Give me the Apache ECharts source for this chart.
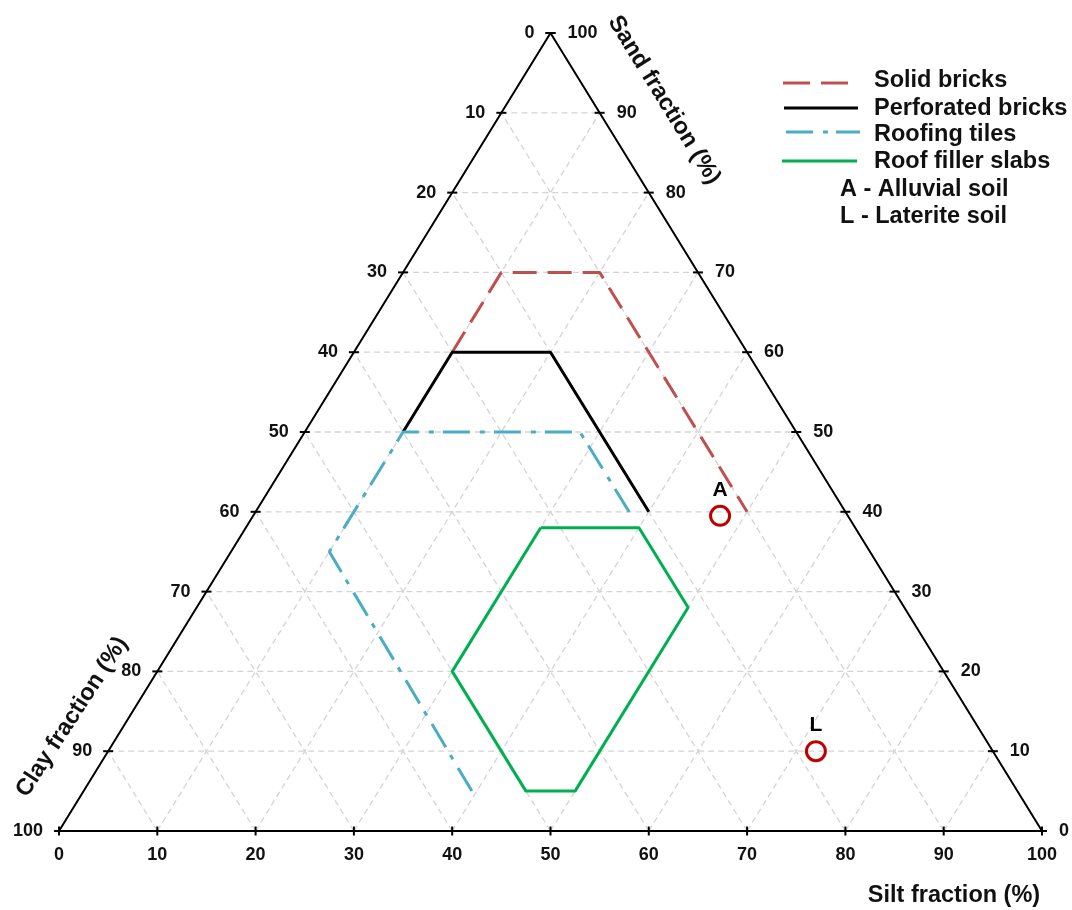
<!DOCTYPE html>
<html>
<head>
<meta charset="utf-8">
<script src="https://cdn.jsdelivr.net/npm/echarts@6/dist/echarts.min.js"></script>
<style>
  html, body { margin: 0; padding: 0; background: #ffffff; }
  #chart { width: 1072px; height: 910px; }
</style>
</head>
<body>
<div id="chart"></div>
<script>
// Compositions are [sand, silt, clay] in percent
const solidBricks = [[60, 10, 30], [70, 10, 20], [70, 20, 10], [40, 50, 10]];
const perforatedBricks = [[50, 10, 40], [60, 10, 30], [60, 20, 20], [40, 40, 20]];
const roofingTiles = [[5, 39.5, 55.5], [35, 10, 55], [50, 10, 40], [50, 28, 22], [39, 39, 22]];
const roofFillerSlabs = [[38, 30, 32], [38, 40, 22], [28, 50, 22], [5, 50, 45], [5, 45, 50], [20, 30, 50], [38, 30, 32]];

const soilNames = ['A', 'L'];
const soilComps = [[39.5, 47.5, 13], [10, 72, 18]];

const tickValues = [0, 10, 20, 30, 40, 50, 60, 70, 80, 90, 100];

const FONT = '"Liberation Sans", Arial, sans-serif';

// Ternary [sand, silt, clay] -> cartesian [x, y] on a 0..100 grid
const toXY = c => [c[1] + c[0] / 2, c[0]];

// Dashed reference lines every 10 % for each component
const gridSegments = [];
tickValues.filter(v => v > 0 && v < 100).forEach(v => {
  [
    [[v, 0, 100 - v], [v, 100 - v, 0]],       // constant sand
    [[0, v, 100 - v], [100 - v, v, 0]],       // constant silt
    [[0, 100 - v, v], [100 - v, 0, v]]        // constant clay
  ].forEach(([a, b]) => gridSegments.push(toXY(a).concat(toXY(b))));
});

// Triangle outline
const frame = [[0, 0, 100], [0, 100, 0], [100, 0, 0], [0, 0, 100]].map(toXY);

// Ticks: [x, y, side, value]; side 0 = clay (left), 1 = sand (right), 2 = silt (bottom)
const ticks = [];
tickValues.forEach(v => {
  ticks.push(toXY([100 - v, 0, v]).concat([0, v]));
  ticks.push(toXY([v, 100 - v, 0]).concat([1, v]));
  ticks.push(toXY([0, v, 100 - v]).concat([2, v]));
});

const tickFont = 'bold 18px ' + FONT;

function renderTick(params, api) {
  const p = api.coord([api.value(0), api.value(1)]);
  const side = api.value(2);
  const label = String(api.value(3));
  let line, text;
  if (side === 0) {
    line = { x1: p[0] - 5, y1: p[1], x2: p[0] + 5, y2: p[1] };
    text = { x: p[0] - 16, y: p[1], align: 'right', verticalAlign: 'middle' };
  } else if (side === 1) {
    line = { x1: p[0] - 5, y1: p[1], x2: p[0] + 5, y2: p[1] };
    text = { x: p[0] + 17, y: p[1], align: 'left', verticalAlign: 'middle' };
  } else {
    line = { x1: p[0], y1: p[1] - 4.5, x2: p[0], y2: p[1] + 4.5 };
    text = { x: p[0], y: p[1] + 24, align: 'center', verticalAlign: 'middle' };
  }
  return {
    type: 'group',
    children: [
      { type: 'line', shape: line, style: { stroke: '#000', lineWidth: 2 } },
      {
        type: 'text', x: text.x, y: text.y,
        style: { text: label, font: tickFont, fill: '#111', align: text.align, verticalAlign: text.verticalAlign }
      }
    ]
  };
}

function renderSegment(params, api) {
  const a = api.coord([api.value(0), api.value(1)]);
  const b = api.coord([api.value(2), api.value(3)]);
  return {
    type: 'line',
    shape: { x1: a[0], y1: a[1], x2: b[0], y2: b[1] },
    style: { stroke: '#d4d4d4', lineWidth: 1.3, lineDash: [6, 4] }
  };
}

const classLine = (name, data, color, dash) => ({
  name, type: 'line', data: data.map(toXY), symbol: 'none', z: 3,
  lineStyle: { color, width: 3, type: dash }
});

const legendRows = [
  { label: 'Solid bricks', color: '#c0504d', dash: [27, 11], y: 83, x1: 783, x2: 848 },
  { label: 'Perforated bricks', color: '#000000', dash: null, y: 108, x1: 784, x2: 858 },
  { label: 'Roofing tiles', color: '#4bacc6', dash: [27, 10, 5, 8], y: 132, x1: 786, x2: 860 },
  { label: 'Roof filler slabs', color: '#00b050', dash: null, y: 161, x1: 782, x2: 857 }
];
const legendTextRows = [
  { label: 'A - Alluvial soil', y: 190 },
  { label: 'L - Laterite soil', y: 217 }
];

const legendFont = 'bold 23.5px ' + FONT;
const graphics = [];
legendRows.forEach((r, i) => {
  graphics.push({
    type: 'line', shape: { x1: r.x1, y1: r.y, x2: r.x2, y2: r.y },
    style: { stroke: r.color, lineWidth: 3, lineDash: r.dash }
  });
  graphics.push({
    type: 'text', x: 874, y: [81, 109, 135, 162][i],
    style: { text: r.label, font: legendFont, fill: '#111', verticalAlign: 'middle' }
  });
});
legendTextRows.forEach(r => graphics.push({
  type: 'text', x: 840, y: r.y,
  style: { text: r.label, font: legendFont, fill: '#111', verticalAlign: 'middle' }
}));
graphics.push(
  {
    type: 'text', x: 664, y: 100, rotation: -58.3 * Math.PI / 180,
    style: { text: 'Sand fraction (%)', font: 'bold 23.5px ' + FONT, fill: '#111', align: 'center', verticalAlign: 'middle' }
  },
  {
    type: 'text', x: 72, y: 717, rotation: 57 * Math.PI / 180,
    style: { text: 'Clay fraction (%)', font: 'bold 23.5px ' + FONT, fill: '#111', align: 'center', verticalAlign: 'middle' }
  },
  {
    type: 'text', x: 954, y: 896,
    style: { text: 'Silt fraction (%)', font: 'bold 23.5px ' + FONT, fill: '#111', align: 'center', verticalAlign: 'middle' }
  }
);

const chart = echarts.init(document.getElementById('chart'), null, { renderer: 'canvas' });
chart.setOption({
  animation: false,
  backgroundColor: '#ffffff',
  grid: { left: 59, right: 30, top: 33, bottom: 79 },
  xAxis: { type: 'value', min: 0, max: 100, show: false },
  yAxis: { type: 'value', min: 0, max: 100, show: false },
  graphic: graphics,
  series: [
    { type: 'custom', name: 'grid', renderItem: renderSegment, data: gridSegments, z: 1, silent: true },
    { type: 'line', name: 'frame', data: frame, symbol: 'none', z: 2, lineStyle: { color: '#000', width: 2 }, silent: true },
    classLine('Solid bricks', solidBricks, '#c0504d', [24, 11]),
    classLine('Perforated bricks', perforatedBricks, '#000000', 'solid'),
    classLine('Roofing tiles', roofingTiles, '#4bacc6', [27, 10, 5, 9]),
    classLine('Roof filler slabs', roofFillerSlabs, '#00b050', 'solid'),
    {
      type: 'scatter', name: 'soils', z: 4,
      data: soilComps.map((c, i) => ({ name: soilNames[i], value: toXY(c) })),
      symbol: 'circle', symbolSize: 19,
      itemStyle: { color: 'rgba(255,255,255,0)', borderColor: '#c00000', borderWidth: 3, opacity: 1 },
      label: {
        show: true, position: 'top', distance: 4, formatter: '{b}',
        fontFamily: FONT, fontWeight: 'bold', fontSize: 21, color: '#000', opacity: 1
      }
    },
    { type: 'custom', name: 'ticks', renderItem: renderTick, data: ticks, z: 5, silent: true }
  ]
});
</script>
</body>
</html>
